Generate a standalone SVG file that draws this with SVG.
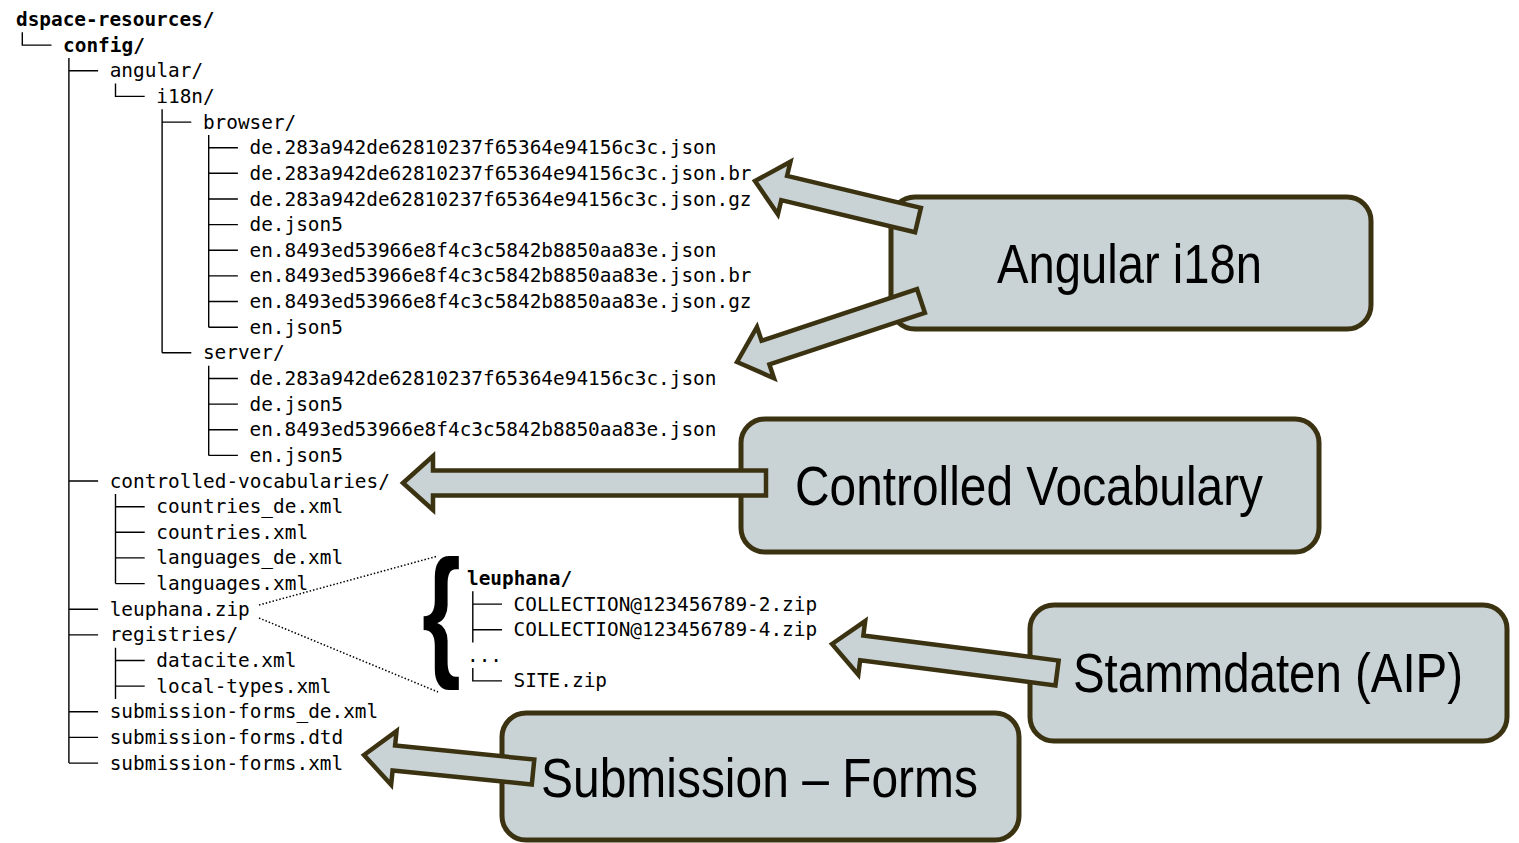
<svg xmlns="http://www.w3.org/2000/svg" width="1519" height="843" viewBox="0 0 1519 843">
<defs>
<style>
.t{font-family:"DejaVu Sans Mono","Liberation Mono",monospace;font-size:19.4px;fill:#000}
.b{font-weight:bold}
.tree{stroke:#000;stroke-width:1.4;fill:none}
.box{fill:#c9d3d6;stroke:#3b3212;stroke-width:5}
.lbl{font-family:"Liberation Sans",Arial,sans-serif;font-size:56px;fill:#000}
.arr{fill:#c9d3d6;stroke:#3b3212;stroke-width:4.5;stroke-linejoin:miter}
.dot{stroke:#000;stroke-width:1.5;stroke-dasharray:1.5 2;fill:none}
</style>
</defs>
<rect width="1519" height="843" fill="#fff"/>

<g id="tree-text">
<text class="t b" x="16" y="26">dspace-resources/</text>
<text class="t b" x="63.1" y="51.6">config/</text>
<text class="t" x="109.7" y="77.3">angular/</text>
<text class="t" x="156.3" y="102.9">i18n/</text>
<text class="t" x="202.9" y="128.6">browser/</text>
<text class="t" x="249.5" y="154.2">de.283a942de62810237f65364e94156c3c.json</text>
<text class="t" x="249.5" y="179.8">de.283a942de62810237f65364e94156c3c.json.br</text>
<text class="t" x="249.5" y="205.5">de.283a942de62810237f65364e94156c3c.json.gz</text>
<text class="t" x="249.5" y="231.1">de.json5</text>
<text class="t" x="249.5" y="256.8">en.8493ed53966e8f4c3c5842b8850aa83e.json</text>
<text class="t" x="249.5" y="282.4">en.8493ed53966e8f4c3c5842b8850aa83e.json.br</text>
<text class="t" x="249.5" y="308">en.8493ed53966e8f4c3c5842b8850aa83e.json.gz</text>
<text class="t" x="249.5" y="333.7">en.json5</text>
<text class="t" x="202.9" y="359.3">server/</text>
<text class="t" x="249.5" y="385">de.283a942de62810237f65364e94156c3c.json</text>
<text class="t" x="249.5" y="410.6">de.json5</text>
<text class="t" x="249.5" y="436.2">en.8493ed53966e8f4c3c5842b8850aa83e.json</text>
<text class="t" x="249.5" y="461.9">en.json5</text>
<text class="t" x="109.7" y="487.5">controlled-vocabularies/</text>
<text class="t" x="156.3" y="513.2">countries_de.xml</text>
<text class="t" x="156.3" y="538.8">countries.xml</text>
<text class="t" x="156.3" y="564.4">languages_de.xml</text>
<text class="t" x="156.3" y="590.1">languages.xml</text>
<text class="t" x="109.7" y="615.7">leuphana.zip</text>
<text class="t" x="109.7" y="641.4">registries/</text>
<text class="t" x="156.3" y="667">datacite.xml</text>
<text class="t" x="156.3" y="692.6">local-types.xml</text>
<text class="t" x="109.7" y="718.3">submission-forms_de.xml</text>
<text class="t" x="109.7" y="743.9">submission-forms.dtd</text>
<text class="t" x="109.7" y="769.6">submission-forms.xml</text>
</g>

<g id="tree-lines">
<path class="tree" d="M22.3 32.3V45.1H51.5
M68.9 58V763.1
M68.9 70.8H98.1M68.9 481H98.1M68.9 609.2H98.1M68.9 634.9H98.1M68.9 711.8H98.1M68.9 737.4H98.1M68.9 763.1H98.1
M115.5 83.6V96.4H144.7
M115.5 493.9V583.6M115.5 506.7H144.7M115.5 532.3H144.7M115.5 557.9H144.7M115.5 583.6H144.7
M115.5 647.7V698.9M115.5 660.5H144.7M115.5 686.1H144.7
M162.1 109.3V352.8M162.1 122.1H191.3M162.1 352.8H191.3
M208.7 134.9V327.2M208.7 147.7H237.9M208.7 173.3H237.9M208.7 199H237.9M208.7 224.6H237.9M208.7 250.3H237.9M208.7 275.9H237.9M208.7 301.5H237.9M208.7 327.2H237.9
M208.7 365.7V455.4M208.7 378.5H237.9M208.7 404.1H237.9M208.7 429.7H237.9M208.7 455.4H237.9
M472.8 591.3V642.5M472.8 604.1H502M472.8 629.7H502M472.8 668.1V680.9H502"/>
</g>

<g id="leuphana-detail">
<text transform="translate(422,660) scale(0.7,1)" font-family="Liberation Sans,Arial,sans-serif" font-size="143" font-weight="bold" fill="#000">{</text>
<text class="t b" x="467" y="585">leuphana/</text>
<text class="t" x="513.6" y="610.6">COLLECTION@123456789-2.zip</text>
<text class="t" x="513.6" y="636.2">COLLECTION@123456789-4.zip</text>
<text class="t" x="467" y="661.8">...</text>
<text class="t" x="513.6" y="687.4">SITE.zip</text>
</g>

<g id="node-angular">
<rect class="box" x="891" y="197" width="480" height="132" rx="24"/>
<text class="lbl" transform="translate(997,283) scale(0.85,1)" textLength="311.8" lengthAdjust="spacingAndGlyphs">Angular i18n</text>
</g>
<g id="node-vocabulary">
<rect class="box" x="741" y="419" width="578" height="133" rx="24"/>
<text class="lbl" transform="translate(795,505) scale(0.85,1)" textLength="550.6" lengthAdjust="spacingAndGlyphs">Controlled Vocabulary</text>
</g>
<g id="node-stammdaten">
<rect class="box" x="1030" y="605" width="477" height="136" rx="24"/>
<text class="lbl" transform="translate(1073,692) scale(0.85,1)" textLength="458.8" lengthAdjust="spacingAndGlyphs">Stammdaten (AIP)</text>
</g>
<g id="node-submission">
<rect class="box" x="502" y="713" width="517" height="127" rx="24"/>
<text class="lbl" transform="translate(541,797) scale(0.85,1)" textLength="514.1" lengthAdjust="spacingAndGlyphs">Submission – Forms</text>
</g>

<g id="connectors">
<path class="dot" d="M259 605L438 556M259 618L438 692"/>
<polygon class="arr" transform="translate(755,181) rotate(13.46)" points="0,0 30,-27 30,-12.5 167.6,-12.5 167.6,12.5 30,12.5 30,27"/>
<polygon class="arr" transform="translate(737,362) rotate(-18.34)" points="0,0 30,-27 30,-12.5 193.8,-12.5 193.8,12.5 30,12.5 30,27"/>
<polygon class="arr" transform="translate(403,483)" points="0,0 30,-27 30,-12.5 363,-12.5 363,12.5 30,12.5 30,27"/>
<polygon class="arr" transform="translate(832,644) rotate(7.34)" points="0,0 30,-27 30,-12.5 226.9,-12.5 226.9,12.5 30,12.5 30,27"/>
<polygon class="arr" transform="translate(364,755) rotate(5.74)" points="0,0 30,-27 30,-12.5 169.9,-12.5 169.9,12.5 30,12.5 30,27"/>
</g>
</svg>
